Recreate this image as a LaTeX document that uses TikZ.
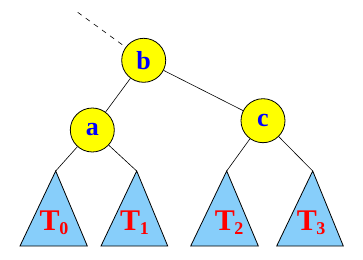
\documentclass[tikz,border=0pt]{standalone}
\usepackage{fontspec}
\setmainfont{Liberation Serif}
\definecolor{nodeyellow}{RGB}{255,255,0}
\definecolor{treeblue}{RGB}{135,206,250}
\definecolor{labelblue}{RGB}{0,0,255}
\definecolor{labelred}{RGB}{255,0,0}
\newcommand{\subdigit}[1]{\kern-0.5pt\raisebox{-0.3ex}{\fontsize{18}{18}\selectfont #1}}
\tikzset{
  keynode/.style={circle,draw=black,line width=0.8pt,fill=nodeyellow,minimum size=44pt,inner sep=0pt,
    font=\bfseries\fontsize{26}{26}\selectfont,text=labelblue},
  subtree/.style={draw=black,line width=0.8pt,fill=treeblue,line join=miter},
  treelabel/.style={font=\bfseries\fontsize{30}{30}\selectfont,text=labelred,inner sep=0pt,anchor=base},
  edge/.style={draw=black,line width=0.6pt},
}
\begin{document}
\begin{tikzpicture}[x=1pt,y=-1pt]
\useasboundingbox (0,0) rectangle (363,259);
% subtrees
\coordinate (p0) at (55.7,171);
\coordinate (p1) at (136.7,171);
\coordinate (p2) at (226.7,171);
\coordinate (p3) at (312.7,171);
\draw[subtree] (p0) -- (20,246) -- (87.3,246) -- cycle;
\draw[subtree] (p1) -- (101,246) -- (167.7,246) -- cycle;
\draw[subtree] (p2) -- (190.7,246) -- (258.3,246) -- cycle;
\draw[subtree] (p3) -- (276.7,246) -- (343.3,246) -- cycle;
\node[treelabel] (t0) at (54,230) {T\subdigit{0}};
\node[treelabel] (t1) at (134.5,230) {T\subdigit{1}};
\node[treelabel] (t2) at (229,230) {T\subdigit{2}};
\node[treelabel] (t3) at (311,230) {T\subdigit{3}};
% key nodes
\node[keynode] (b) at (143.7,60.3) {b};
\node[keynode] (a) at (92.3,130) {a};
\node[keynode] (c) at (263,120.7) {c};
\coordinate (up) at (77.7,12.3);
% connectors
\draw[edge,dashed,dash pattern=on 5pt off 5pt] (up) -- (b);
\draw[edge] (b) -- (a);
\draw[edge] (b) -- (c);
\draw[edge] (a) -- (p0);
\draw[edge] (a) -- (p1);
\draw[edge] (c) -- (p2);
\draw[edge] (c) -- (p3);
\end{tikzpicture}
\end{document}
